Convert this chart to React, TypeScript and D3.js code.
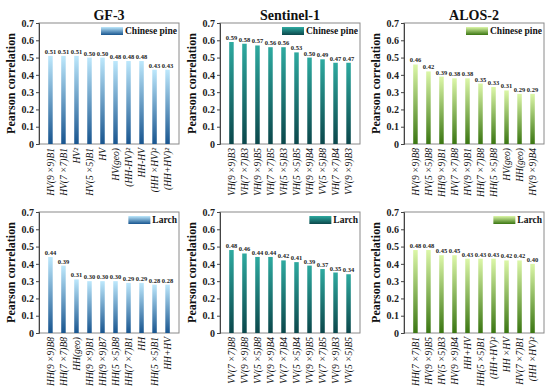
import React, { useRef, useEffect } from 'react';
import * as d3 from 'd3';

// y axis ticks shared by every panel
const yTicks = [0, 0.1, 0.2, 0.3, 0.4, 0.5, 0.6, 0.7];

// GF-3, Chinese pine
const gf3PineLabels = ['HV(9 ×9)B1', 'HV(7 ×7)B1', 'HV²', 'HV(5 ×5)B1', 'HV', 'HV(geo)', '(HH-HV)²', 'HH-HV', '(HH ×HV)²', '(HH+HV)²'];
const gf3PineValues = [0.51, 0.51, 0.51, 0.5, 0.5, 0.48, 0.48, 0.48, 0.43, 0.43];

// Sentinel-1, Chinese pine
const s1PineLabels = ['VH(9 ×9)B3', 'VH(7 ×7)B3', 'VH(9 ×9)B5', 'VH(7 ×7)B5', 'VH(5 ×5)B3', 'VH(5 ×5)B5', 'VH(9 ×9)B4', 'VV(5 ×5)B8', 'VH(7 ×7)B4', 'VV(9 ×9)B3'];
const s1PineValues = [0.59, 0.58, 0.57, 0.56, 0.56, 0.53, 0.5, 0.49, 0.47, 0.47];

// ALOS-2, Chinese pine
const alosPineLabels = ['HV(9 ×9)B8', 'HV(5 ×5)B8', 'HH(9 ×9)B1', 'HV(7 ×7)B8', 'HV(9 ×9)B1', 'HH(7 ×7)B8', 'HH(5 ×5)B8', 'HV(geo)', 'HH(geo)', 'HV(9 ×9)B4'];
const alosPineValues = [0.46, 0.42, 0.39, 0.38, 0.38, 0.35, 0.33, 0.31, 0.29, 0.29];

// GF-3, Larch
const gf3LarchLabels = ['HH(9 ×9)B8', 'HH(7 ×7)B8', 'HH(geo)', 'HH(9 ×9)B1', 'HH(9 ×9)B7', 'HH(5 ×5)B8', 'HH(7 ×7)B1', 'HH', 'HH(5 ×5)B1', 'HH+HV'];
const gf3LarchValues = [0.44, 0.39, 0.31, 0.3, 0.3, 0.3, 0.29, 0.29, 0.28, 0.28];

// Sentinel-1, Larch
const s1LarchLabels = ['VV(7 ×7)B8', 'VV(9 ×9)B8', 'VV(5 ×5)B8', 'VV(9 ×9)B4', 'VV(7 ×7)B4', 'VV(5 ×5)B4', 'VV(9 ×9)B5', 'VV(7 ×7)B5', 'VV(9 ×9)B3', 'VV(5 ×5)B5'];
const s1LarchValues = [0.48, 0.46, 0.44, 0.44, 0.42, 0.41, 0.39, 0.37, 0.35, 0.34];

// ALOS-2, Larch
const alosLarchLabels = ['HH(7 ×7)B1', 'HV(9 ×9)B5', 'HV(5 ×5)B3', 'HV(9 ×9)B4', 'HH+HV', 'HH(5 ×5)B1', '(HH+HV)²', 'HH ×HV', 'HV(7 ×7)B1', '(HH ×HV)²'];
const alosLarchValues = [0.48, 0.48, 0.45, 0.45, 0.43, 0.43, 0.43, 0.42, 0.42, 0.4];

const titles = ['GF-3', 'Sentinel-1', 'ALOS-2'];
const species = ['Chinese pine', 'Larch'];

// top / bottom colour of the bar gradients, one per sensor
const gradColors = [
  ['#bde8fc', '#18558f'],
  ['#2eaaa0', '#0b474b'],
  ['#dcf7a8', '#3a7612'],
];

const panels = [
  { col: 0, row: 0, labels: gf3PineLabels, values: gf3PineValues },
  { col: 1, row: 0, labels: s1PineLabels, values: s1PineValues },
  { col: 2, row: 0, labels: alosPineLabels, values: alosPineValues },
  { col: 0, row: 1, labels: gf3LarchLabels, values: gf3LarchValues },
  { col: 1, row: 1, labels: s1LarchLabels, values: s1LarchValues },
  { col: 2, row: 1, labels: alosLarchLabels, values: alosLarchValues },
];

const colX = [0, 181, 365];
const rowY = [0, 189];
const serif = '"Liberation Serif", "Times New Roman", serif';

function App() {
  const svgRef = useRef<SVGSVGElement>(null);

  useEffect(() => {
    const svg = d3.select(svgRef.current);
    svg.selectAll('*').remove();

    const defs = svg.append('defs');
    gradColors.forEach((c, i) => {
      const g = defs
        .append('linearGradient')
        .attr('id', `grad-${i}`)
        .attr('x1', 0)
        .attr('y1', 0)
        .attr('x2', 0)
        .attr('y2', 1);
      g.append('stop').attr('offset', '0%').attr('stop-color', c[0]);
      g.append('stop').attr('offset', '100%').attr('stop-color', c[1]);
    });

    panels.forEach(p => {
      const px = colX[p.col] + 39;
      const py = rowY[p.row] + 23;
      const w = 140;
      const h = 121;
      const g = svg.append('g');

      const yScale = d3.scaleLinear().domain([0, 0.7]).range([py + h, py]);
      const xScale = d3.scalePoint<string>().domain(p.labels).range([px, px + w]).padding(0.88);

      // frame
      g.append('rect')
        .attr('x', px)
        .attr('y', py)
        .attr('width', w)
        .attr('height', h)
        .attr('fill', 'none')
        .attr('stroke', '#8a8a8a')
        .attr('stroke-width', 1);

      // y axis
      const yAxis = d3
        .axisLeft(yScale)
        .tickValues(yTicks)
        .tickSize(3)
        .tickPadding(2)
        .tickFormat(d => ((d as number) === 0 ? '0' : d3.format('.1f')(d as number)));
      const ag = g.append('g').attr('transform', `translate(${px},0)`).call(yAxis);
      ag.select('.domain').attr('stroke', '#444');
      ag.selectAll('line').attr('stroke', '#444');
      ag.selectAll('text')
        .style('font-family', serif)
        .style('font-weight', 'bold')
        .style('font-size', '10px')
        .attr('fill', '#222');

      // bars
      g.selectAll('.bar')
        .data(p.values)
        .join('rect')
        .attr('class', 'bar')
        .attr('x', (d, i) => (xScale(p.labels[i]) as number) - 2.25)
        .attr('width', 4.5)
        .attr('y', d => yScale(d))
        .attr('height', d => yScale(0) - yScale(d))
        .attr('fill', `url(#grad-${p.col})`);

      // value labels
      g.selectAll('.val')
        .data(p.values)
        .join('text')
        .attr('class', 'val')
        .attr('x', (d, i) => xScale(p.labels[i]) as number)
        .attr('y', d => yScale(d) - 2)
        .attr('text-anchor', 'middle')
        .style('font-family', serif)
        .style('font-weight', 'bold')
        .style('font-size', '6.5px')
        .attr('fill', '#222')
        .text(d => d3.format('.2f')(d));

      // x labels, rotated
      g.selectAll('.xl')
        .data(p.labels)
        .join('text')
        .attr('class', 'xl')
        .attr('transform', d => `translate(${(xScale(d) as number) + 3.5},${py + h + 4}) rotate(-90)`)
        .attr('text-anchor', 'end')
        .style('font-family', serif)
        .style('font-style', 'italic')
        .style('font-size', '9.5px')
        .attr('fill', '#111')
        .text(d => d);

      // y title
      g.append('text')
        .attr('transform', `translate(${colX[p.col] + 15},${py + h / 2}) rotate(-90)`)
        .attr('text-anchor', 'middle')
        .style('font-family', serif)
        .style('font-weight', 'bold')
        .style('font-size', '12px')
        .attr('fill', '#111')
        .text('Pearson correlation');

      // panel title (top row only)
      if (p.row === 0) {
        g.append('text')
          .attr('x', px + w / 2)
          .attr('y', 20)
          .attr('text-anchor', 'middle')
          .style('font-family', serif)
          .style('font-weight', 'bold')
          .style('font-size', '14px')
          .attr('fill', '#111')
          .text(titles[p.col]);
      }

      // legend
      const lt = g
        .append('text')
        .attr('x', px + w - 2)
        .attr('y', py + 11)
        .attr('text-anchor', 'end')
        .style('font-family', serif)
        .style('font-weight', 'bold')
        .style('font-size', '9.5px')
        .attr('fill', '#111')
        .text(species[p.row]);
      const tw = (lt.node() as SVGTextElement).getComputedTextLength();
      g.append('rect')
        .attr('x', px + w - 2 - tw - 24)
        .attr('y', py + 4)
        .attr('width', 22)
        .attr('height', 8)
        .attr('fill', `url(#grad-${p.col})`);
    });
  }, []);

  return (
    <svg
      ref={svgRef}
      width={550}
      height={391}
      style={{ position: 'absolute', left: 0, top: 0, background: '#fff' }}
    />
  );
}

export default App;
